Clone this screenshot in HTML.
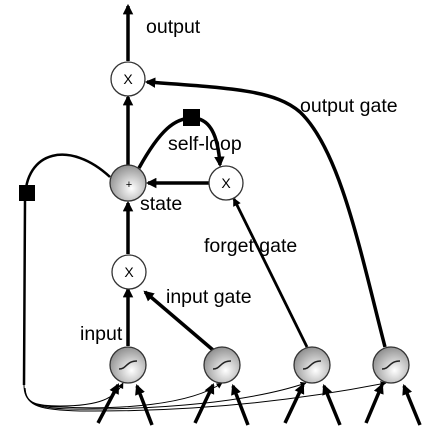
<!DOCTYPE html>
<html><head><meta charset="utf-8"><style>
html,body{margin:0;padding:0;background:#fff;}
svg{display:block;font-family:"Liberation Sans",Arial,sans-serif;}
</style></head><body>
<svg width="437" height="446" viewBox="0 0 437 446">
<defs>
<radialGradient id="g" cx="0.6" cy="0.65" r="0.7">
<stop offset="0" stop-color="#fff"/><stop offset="1" stop-color="#8a8a8a"/>
</radialGradient>
<marker id="ah" viewBox="0 0 10 10" refX="8" refY="5" markerWidth="3" markerHeight="3" orient="auto" markerUnits="strokeWidth">
<path d="M0,0 L10,5 L0,10 z" fill="#000"/></marker>
<marker id="ahs" viewBox="0 0 10 10" refX="9" refY="5" markerWidth="6" markerHeight="6" orient="auto" markerUnits="strokeWidth">
<path d="M0,0 L10,5 L0,10 z" fill="#000"/></marker>
</defs>
<g fill="none" stroke="#000">
<g stroke-width="1">
<path d="M110,177 C70,140 25,150 25,200 L24,385" stroke-width="2.5"/>
<path d="M24,385 C24,403 34,406 60,407 C120,410 190,405 222,383" marker-end="url(#ahs)"/>
<path d="M25,388 C26,404 36,408 70,409 C160,410 250,402 306,383" marker-end="url(#ahs)"/>
<path d="M25,390 C27,406 40,410 80,411 C200,412 300,400 386,383" marker-end="url(#ahs)"/>
<path d="M25,388 C25,404 38,406 60,406 C100,406 115,398 123,383" marker-end="url(#ahs)"/>
</g>
<g stroke-width="3.5">
<path d="M128,61 L128,6" marker-end="url(#ah)"/>
<path d="M128,165 L128,97" marker-end="url(#ah)"/>
<path d="M128,254 L128,203" marker-end="url(#ah)"/>
<path d="M128,346 L128,289" marker-end="url(#ah)"/>
<path d="M209,183 L148,183" marker-end="url(#ah)"/>
<path d="M139,168 C160,130 175,118 192,118 C210,118 218,135 220,165" marker-end="url(#ah)"/>
<path d="M385,347 C360,250 340,150 300,112 C275,90 230,88 147,82" marker-end="url(#ah)"/>
<path d="M307,347 L234,199" marker-end="url(#ah)" stroke-width="2.8"/>
<path d="M213,350 L145,292" marker-end="url(#ah)"/>
</g>
<g stroke-width="3.5">
<path d="M98,423 L118,385" marker-end="url(#ah)"/>
<path d="M152,425 L137,386" marker-end="url(#ah)"/>
<path d="M195,423 L213,385" marker-end="url(#ah)"/>
<path d="M248,425 L233,386" marker-end="url(#ah)"/>
<path d="M285,423 L303,385" marker-end="url(#ah)"/>
<path d="M340,425 L324,386" marker-end="url(#ah)"/>
<path d="M366,423 L382,385" marker-end="url(#ah)"/>
<path d="M420,425 L404,386" marker-end="url(#ah)"/>
</g>
</g>
<rect x="183" y="109" width="17" height="17" fill="#000"/>
<rect x="19" y="185" width="16" height="16" fill="#000"/>
<g stroke="#333" stroke-width="1.3">
<circle cx="128" cy="79" r="17" fill="#fff"/>
<circle cx="128" cy="183" r="18" fill="url(#g)"/>
<circle cx="226" cy="183" r="17" fill="#fff"/>
<circle cx="129" cy="272" r="17" fill="#fff"/>
<circle cx="128" cy="365" r="18" fill="url(#g)"/>
<circle cx="222" cy="365" r="18" fill="url(#g)"/>
<circle cx="312" cy="365" r="18" fill="url(#g)"/>
<circle cx="391" cy="365" r="18" fill="url(#g)"/>
</g>
<g fill="none" stroke="#222" stroke-width="1.5">
<path d="M119,369 C127,369 126,361 137,361"/>
<path d="M213,369 C221,369 220,361 231,361"/>
<path d="M303,369 C311,369 310,361 321,361"/>
<path d="M382,369 C390,369 389,361 400,361"/>
</g>
<g font-size="14" text-anchor="middle">
<text x="128" y="84">X</text><text x="226" y="188">X</text><text x="129" y="277">X</text>
<text x="129" y="188" font-size="11">+</text>
</g>
<g font-size="19.5" fill="#000">
<text x="146" y="33">output</text>
<text x="300" y="112">output gate</text>
<text x="168" y="150">self-loop</text>
<text x="140" y="210">state</text>
<text x="204" y="252">forget gate</text>
<text x="166" y="303">input gate</text>
<text x="80" y="340">input</text>
</g>
</svg>
</body></html>
